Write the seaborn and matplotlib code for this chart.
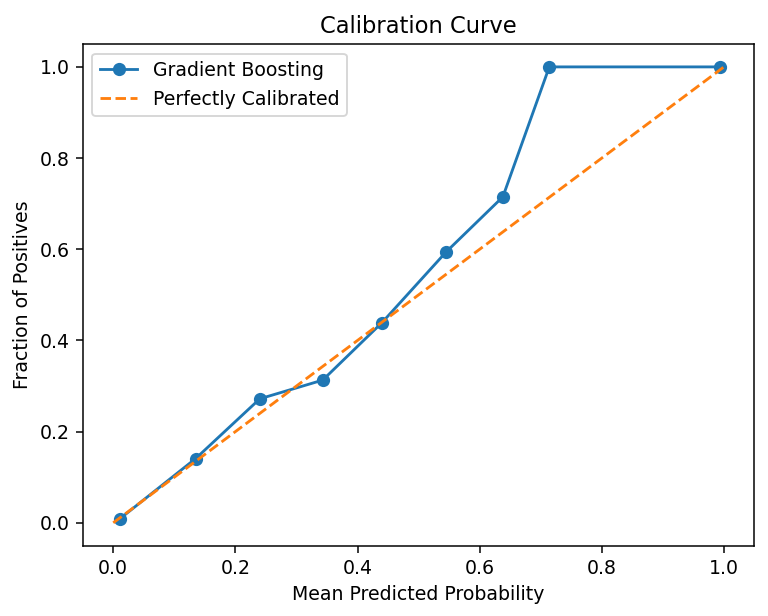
import matplotlib
matplotlib.use("Agg")
import matplotlib.pyplot as plt
import seaborn as sns
import pandas as pd

# calibration bins
mean_pred = [0.011, 0.135, 0.240, 0.343, 0.440, 0.545, 0.638, 0.714, 0.994]
frac_pos = [0.009, 0.141, 0.272, 0.313, 0.439, 0.594, 0.715, 1.0, 1.0]
diag = [0.0, 1.0]

df = pd.DataFrame({'mean_pred': mean_pred, 'frac_pos': frac_pos})

DPI = 136
fig = plt.figure(figsize=(768 / DPI, 616 / DPI), dpi=DPI)
ax = fig.add_axes([0.1077, 0.1143, 0.9824 - 0.1077, 0.9284 - 0.1143])

sns.lineplot(data=df, x='mean_pred', y='frac_pos', marker='o', markeredgewidth=0,
             markersize=7, color='#1f77b4', label='Gradient Boosting', ax=ax)
sns.lineplot(x=diag, y=diag, linestyle='--', color='#ff7f0e',
             label='Perfectly Calibrated', ax=ax)

ax.set_title('Calibration Curve')
ax.set_xlabel('Mean Predicted Probability')
ax.set_ylabel('Fraction of Positives')
ax.legend(loc='upper left')

plt.savefig('out.png', dpi=DPI)
